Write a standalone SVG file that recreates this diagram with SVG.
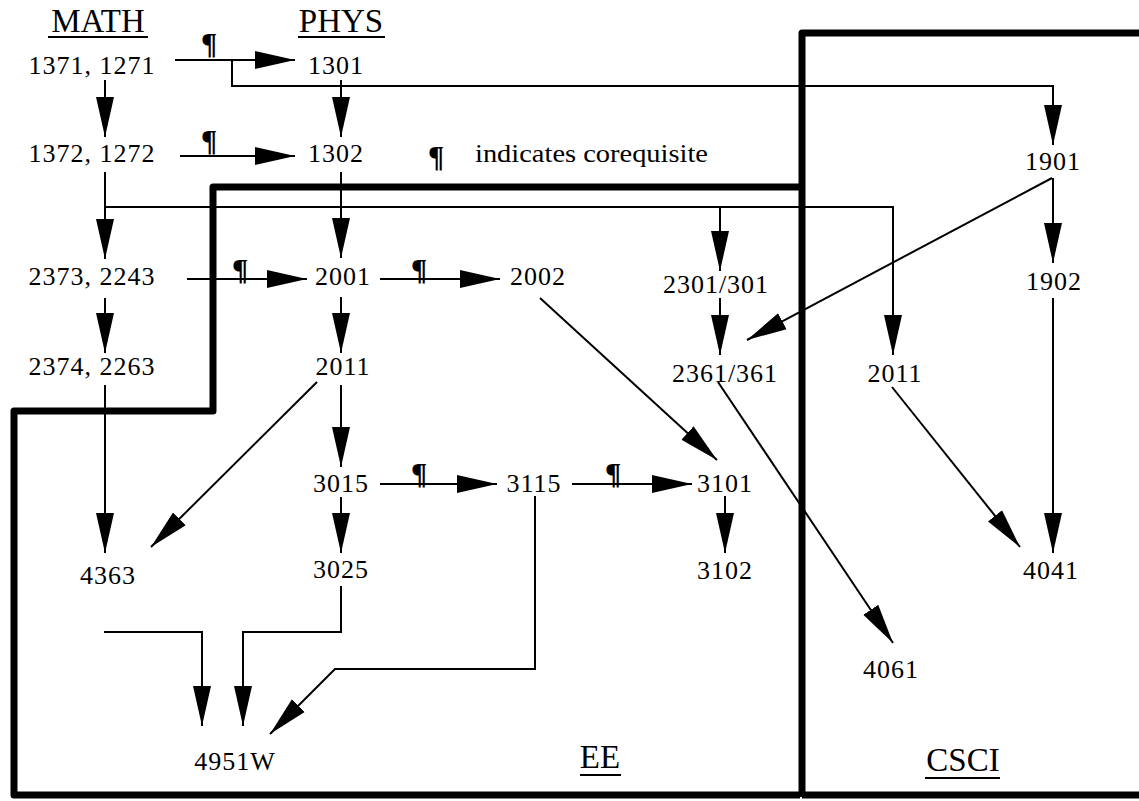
<svg xmlns="http://www.w3.org/2000/svg" width="1139" height="801" viewBox="0 0 1139 801">
<style>
.n{font-family:"Liberation Serif",serif;font-size:26px;letter-spacing:1px;text-anchor:middle;fill:#000}
.h{font-family:"Liberation Serif",serif;font-size:33px;text-anchor:middle;fill:#000}
.p{font-family:"Liberation Serif",serif;font-size:30px;font-weight:bold;text-anchor:middle;fill:#000}
.c{fill:none;stroke:#000;stroke-width:2}
.a{marker-end:url(#ah)}
.b{fill:none;stroke:#000;stroke-width:7;stroke-linejoin:round}
.u{stroke:#000;stroke-width:2}
</style>
<defs>
<marker id="ah" markerUnits="userSpaceOnUse" markerWidth="40" markerHeight="20" viewBox="0 0 40 20" refX="40" refY="10" orient="auto">
<path d="M0,1 L40,10 L0,19 z" fill="#000"/>
</marker>
</defs>
<rect width="1139" height="801" fill="#fff"/>
<g id="regions">
<path class="b" d="M800,187 H213 V411 H14 V795 H800"/>
<path class="b" d="M802,797 V33 H1139"/>
<path class="b" d="M802,795 H1139"/>
</g>
<g id="headers">
<text class="h" x="98" y="32">MATH</text><line class="u" x1="48" y1="37" x2="148" y2="37"/>
<text class="h" x="341" y="32">PHYS</text><line class="u" x1="298" y1="37" x2="385" y2="37"/>
<text class="h" x="600" y="768">EE</text><line class="u" x1="580" y1="775" x2="621" y2="775"/>
<text class="h" x="963" y="771">CSCI</text><line class="u" x1="925" y1="778" x2="1000" y2="778"/>
</g>
<g id="legend">
<text class="p" x="436" y="166">¶</text>
<text x="475" y="162" font-family="Liberation Serif, serif" font-size="26" textLength="233" lengthAdjust="spacingAndGlyphs">indicates corequisite</text>
</g>
<g id="connectors">
<path class="c a" d="M175,60 H295"/>
<path class="c a" d="M232,60 V86 H1053 V145"/>
<path class="c a" d="M105,80 V137"/>
<path class="c a" d="M341,80 V137"/>
<path class="c a" d="M180,156 H295"/>
<path class="c a" d="M341,172 V258"/>
<path class="c a" d="M105,172 V259"/>
<path class="c a" d="M105,207 H893 V355"/>
<path class="c a" d="M720,207 V271"/>
<path class="c a" d="M187,279 H307"/>
<path class="c a" d="M380,279 H500"/>
<path class="c a" d="M105,298 V353"/>
<path class="c a" d="M341,297 V353"/>
<path class="c a" d="M720,298 V355"/>
<path class="c a" d="M1053,178 V263"/>
<path class="c a" d="M1052,178 L747,340"/>
<path class="c a" d="M540,298 L717,460"/>
<path class="c a" d="M718,382 L893,643"/>
<path class="c a" d="M892,387 L1020,547"/>
<path class="c a" d="M1053,298 V553"/>
<path class="c a" d="M317,382 L151,547"/>
<path class="c a" d="M341,385 V467"/>
<path class="c a" d="M105,385 V553"/>
<path class="c a" d="M380,484 H497"/>
<path class="c a" d="M572,484 H692"/>
<path class="c a" d="M341,497 V553"/>
<path class="c a" d="M725,496 V553"/>
<path class="c a" d="M341,586 V632 H243 V726"/>
<path class="c a" d="M104,632 H202 V726"/>
<path class="c a" d="M535,496 V669 H335 L270,734"/>
<text class="p" x="209" y="53">¶</text>
<text class="p" x="209" y="150">¶</text>
<text class="p" x="240" y="279">¶</text>
<text class="p" x="419" y="279">¶</text>
<text class="p" x="419" y="483">¶</text>
<text class="p" x="613" y="483">¶</text>
</g>
<g id="n1371"><text class="n" x="92" y="74">1371, 1271</text></g>
<g id="n1301"><text class="n" x="336" y="74">1301</text></g>
<g id="n1372"><text class="n" x="92" y="162">1372, 1272</text></g>
<g id="n1302"><text class="n" x="336" y="162">1302</text></g>
<g id="n1901"><text class="n" x="1053" y="170">1901</text></g>
<g id="n2373"><text class="n" x="92" y="285">2373, 2243</text></g>
<g id="n2001"><text class="n" x="343" y="285">2001</text></g>
<g id="n2002"><text class="n" x="538" y="285">2002</text></g>
<g id="n2301"><text class="n" x="716" y="293">2301/301</text></g>
<g id="n1902"><text class="n" x="1054" y="290">1902</text></g>
<g id="n2374"><text class="n" x="92" y="375">2374, 2263</text></g>
<g id="n2011ee"><text class="n" x="343" y="375">2011</text></g>
<g id="n2361"><text class="n" x="725" y="382">2361/361</text></g>
<g id="n2011cs"><text class="n" x="895" y="382">2011</text></g>
<g id="n3015"><text class="n" x="341" y="492">3015</text></g>
<g id="n3115"><text class="n" x="534" y="492">3115</text></g>
<g id="n3101"><text class="n" x="725" y="492">3101</text></g>
<g id="n4363"><text class="n" x="108" y="584">4363</text></g>
<g id="n3025"><text class="n" x="341" y="578">3025</text></g>
<g id="n3102"><text class="n" x="725" y="579">3102</text></g>
<g id="n4041"><text class="n" x="1051" y="579">4041</text></g>
<g id="n4061"><text class="n" x="891" y="678">4061</text></g>
<g id="n4951"><text class="n" x="235" y="770">4951W</text></g>
</svg>
